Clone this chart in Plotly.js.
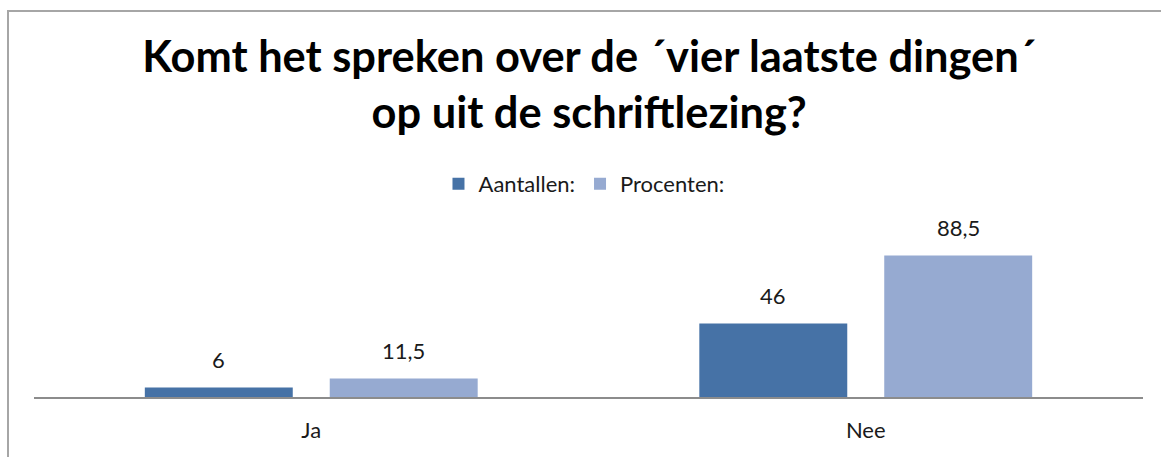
<!DOCTYPE html>
<html>
<head>
<meta charset="utf-8">
<script src="https://cdn.plot.ly/plotly-3.0.1.min.js"></script>
<style>
  html, body { margin: 0; padding: 0; background: #fff; }
  #wrap { position: relative; width: 1161px; height: 457px; overflow: hidden; }
  #chart { width: 1161px; height: 457px; }
  #frame { position: absolute; left: 7px; top: 10px; width: 1200px; height: 500px;
           border: 2px solid #a6a6a6; box-sizing: border-box; pointer-events: none; }
</style>
</head>
<body>
<div id="wrap">
  <div id="chart"></div>
  <div id="frame"></div>
</div>
<script>
const categories = ['Ja', 'Nee'];
const seriesNames = ['Aantallen:', 'Procenten:'];
const aantallen = [6, 46];
const procenten = [11.5, 88.5];
const titleText = 'Komt het spreken over de \u00b4vier laatste dingen\u00b4<br>op uit de schriftlezing?';

const font = 'Lato, Calibri, Carlito, sans-serif';
const labelFont = { family: font, size: 22, color: '#1a1a1a' };
const seriesValues = [aantallen, procenten];
const seriesColors = ['#4672a6', '#96aad1'];

const traces = seriesValues.map((vals, i) => ({
  type: 'bar', name: seriesNames[i], x: categories, y: vals,
  marker: { color: seriesColors[i] }, hoverinfo: 'skip'
}));

// data labels: one per bar, shifted to its slot within the group
const slotHalf = 92.5;
const annotations = [];
seriesValues.forEach((vals, i) => {
  vals.forEach((v, j) => {
    annotations.push({
      x: categories[j], y: v, xref: 'x', yref: 'y',
      text: String(v).replace('.', ','), showarrow: false,
      xshift: (i === 0 ? -1 : 1) * slotHalf, yshift: 28,
      xanchor: 'center', yanchor: 'middle', font: labelFont
    });
  });
});

const layout = {
  width: 1161, height: 457,
  separators: ', ',
  paper_bgcolor: '#ffffff', plot_bgcolor: '#ffffff',
  margin: { l: 34, r: 18, t: 236.6, b: 60.4 },
  barmode: 'group', bargap: 0.333, bargroupgap: 0.2,
  title: { text: titleText, x: 0.5075, xref: 'container', xanchor: 'center',
           y: 1 - 72 / 457, yref: 'container', yanchor: 'top',
           font: { family: font, size: 43.4, color: '#000000', weight: 'bold' } },
  showlegend: true,
  legend: { orientation: 'h', x: 0.503, xref: 'container', xanchor: 'center',
            y: 1 - 184 / 457, yref: 'container', yanchor: 'middle',
            font: { family: font, size: 22, color: '#1a1a1a' },
            itemwidth: 30, traceorder: 'normal' },
  annotations: annotations,
  xaxis: { type: 'category', showline: true, linecolor: '#8c8c8c', linewidth: 2,
           ticks: '', showgrid: false, zeroline: false, fixedrange: true,
           tickfont: { family: font, size: 22, color: '#1a1a1a' },
           ticklabelstandoff: 13 },
  yaxis: { range: [0, 100], visible: false, showgrid: false, zeroline: false, fixedrange: true }
};

Plotly.newPlot('chart', traces, layout, { displayModeBar: false, staticPlot: true });
</script>
</body>
</html>
